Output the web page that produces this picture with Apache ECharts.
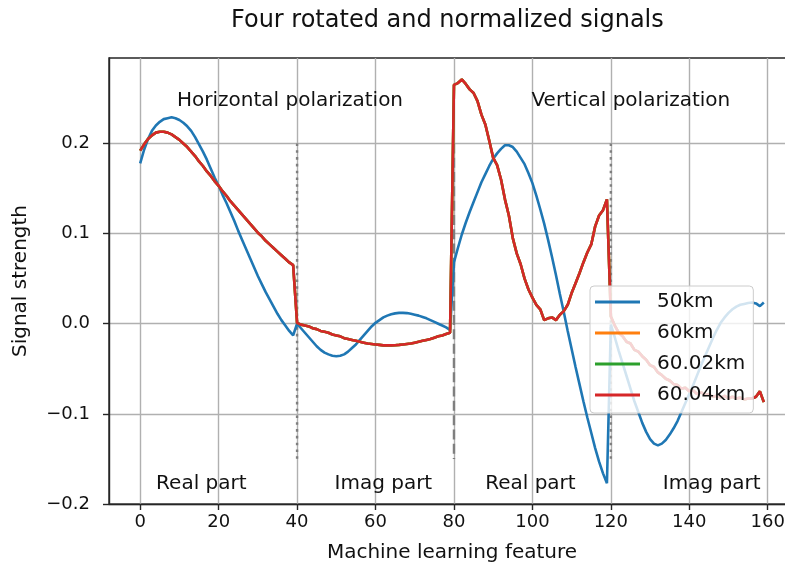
<!DOCTYPE html>
<html><head><meta charset="utf-8">
<script src="https://cdn.jsdelivr.net/npm/echarts@6/dist/echarts.min.js"></script>
<style>html,body{margin:0;padding:0;background:#fff}#c{width:785px;height:571px}</style>
</head><body><div id="c"></div>
<script>
// ---- data ----
const features = Array.from({length: 160}, (_, i) => i); // feature index 0..159

const s50km = [
 0.178,0.193,0.205,0.214,0.220,0.224,0.227,0.228,0.229,0.228,
 0.226,0.223,0.219,0.214,0.207,0.199,0.191,0.182,0.172,0.162,
 0.153,0.143,0.134,0.124,0.114,0.103,0.093,0.083,0.073,0.063,
 0.053,0.044,0.035,0.027,0.019,0.011,0.004,-0.002,-0.008,-0.013,
 0.000,-0.005,-0.010,-0.015,-0.020,-0.025,-0.029,-0.032,-0.034,-0.0355,
 -0.036,-0.0355,-0.034,-0.031,-0.027,-0.023,-0.018,-0.013,-0.008,-0.003,
 0.001,0.004,0.007,0.009,0.0105,0.0115,0.012,0.012,0.0118,0.011,
 0.010,0.009,0.0075,0.006,0.004,0.002,0.000,-0.002,-0.004,-0.007,
 0.068,0.084,0.099,0.112,0.124,0.135,0.146,0.157,0.166,0.175,
 0.183,0.189,0.194,0.198,0.198,0.196,0.191,0.184,0.177,0.167,
 0.156,0.142,0.127,0.111,0.093,0.074,0.054,0.033,0.013,-0.008,
 -0.028,-0.048,-0.067,-0.086,-0.104,-0.121,-0.138,-0.153,-0.166,-0.177,
 -0.001,-0.015,-0.030,-0.044,-0.058,-0.072,-0.086,-0.098,-0.110,-0.120,
 -0.128,-0.133,-0.135,-0.133,-0.129,-0.123,-0.116,-0.108,-0.098,-0.088,
 -0.078,-0.068,-0.057,-0.046,-0.036,-0.026,-0.016,-0.007,0.001,0.007,
 0.012,0.016,0.019,0.021,0.022,0.023,0.0235,0.0225,0.0195,0.0235
];

const s60km = [
 0.192,0.199,0.205,0.209,0.212,0.213,0.213,0.212,0.210,0.207,
 0.204,0.200,0.196,0.191,0.186,0.180,0.175,0.169,0.164,0.158,
 0.153,0.147,0.142,0.136,0.131,0.126,0.121,0.116,0.111,0.106,
 0.101,0.097,0.092,0.088,0.084,0.080,0.076,0.072,0.068,0.065,
 0.001,-0.001,-0.002,-0.003,-0.005,-0.006,-0.008,-0.009,-0.010,-0.012,
 -0.013,-0.014,-0.016,-0.017,-0.018,-0.019,-0.020,-0.021,-0.022,-0.0225,
 -0.023,-0.0235,-0.024,-0.024,-0.024,-0.0238,-0.0235,-0.023,-0.0225,-0.022,
 -0.021,-0.020,-0.019,-0.018,-0.017,-0.0155,-0.014,-0.013,-0.0115,-0.010,
 0.265,0.267,0.271,0.266,0.260,0.256,0.247,0.232,0.221,0.203,
 0.184,0.176,0.160,0.138,0.120,0.095,0.078,0.066,0.050,0.038,
 0.029,0.021,0.016,0.004,0.006,0.007,0.004,0.010,0.014,0.021,
 0.034,0.045,0.056,0.068,0.079,0.088,0.108,0.120,0.126,0.138,
 0.008,-0.002,-0.010,-0.014,-0.020,-0.022,-0.029,-0.031,-0.036,-0.040,
 -0.046,-0.048,-0.054,-0.057,-0.061,-0.063,-0.067,-0.068,-0.072,-0.071,
 -0.075,-0.074,-0.078,-0.076,-0.079,-0.078,-0.081,-0.080,-0.082,-0.080,
 -0.083,-0.081,-0.083,-0.082,-0.084,-0.083,-0.083,-0.081,-0.075,-0.087
];
// the 60.02 km and 60.04 km curves lie exactly on top of the 60 km curve in the picture
const s60_02km = s60km.slice();
const s60_04km = s60km.slice();

const seriesNames = ['50km', '60km', '60.02km', '60.04km'];
const xTicks = [0, 20, 40, 60, 80, 100, 120, 140, 160];
const yTicks = [-0.2, -0.1, 0.0, 0.1, 0.2];

const sepX = [40, 80, 120];
const sepTop = 0.2, sepBottom = -0.15;

const noteText = ['Horizontal polarization', 'Vertical polarization', 'Real part', 'Imag part', 'Real part', 'Imag part'];
const noteX = [38.2, 125.1, 15.6, 62.0, 99.5, 145.7];
const noteY = [0.2473, 0.2473, -0.1775, -0.1775, -0.1775, -0.1775];

// ---- chart ----
const FONT = 'DejaVu Sans';
const TXT = '#111111';
const colors = ['#1f77b4', '#ff7f0e', '#2ca02c', '#d62728'];
const allSeries = [s50km, s60km, s60_02km, s60_04km];
const toPts = arr => features.map((x, i) => [x, arr[i]]);

const series = [];
sepX.forEach((x, k) => {
  series.push({
    type: 'line', name: 'sep' + k, data: [[x, sepTop], [x, sepBottom]],
    symbol: 'none', silent: true, z: 1,
    lineStyle: {color: '#7f7f7f', width: 2.4, type: k === 1 ? [10, 4.3] : [2.6, 4.2]}
  });
});
allSeries.forEach((arr, i) => {
  series.push({
    type: 'line', name: seriesNames[i], data: toPts(arr),
    symbol: 'none', showSymbol: false, z: 2 + i,
    lineStyle: {color: colors[i], width: 2.6},
    itemStyle: {color: colors[i]}
  });
});
series.push({
  type: 'scatter', name: 'notes', z: 8, silent: true,
  data: noteX.map((x, i) => ({value: [x, noteY[i]], name: noteText[i]})),
  symbolSize: 0, itemStyle: {color: '#000000', opacity: 1},
  label: {show: true, position: 'inside', formatter: p => p.name,
          fontSize: 20, fontFamily: FONT, color: TXT, opacity: 1,
          textBorderWidth: 0, textShadowBlur: 0}
});

const fmtY = v => (v < -1e-9 ? '\u2212' : '') + Math.abs(v).toFixed(1);

const option = {
  animation: false,
  backgroundColor: '#fff',
  title: {
    text: 'Four rotated and normalized signals',
    left: 231, top: 9, padding: 0,
    textStyle: {fontSize: 24, fontWeight: 'normal', fontFamily: FONT, color: TXT}
  },
  grid: {
    left: 109, top: 58, right: -10, bottom: 67,
    show: true, borderColor: '#262626', borderWidth: 1.4,
    containLabel: false, outerBoundsMode: 'none'
  },
  legend: {
    data: seriesNames, orient: 'vertical', left: 590, top: 286,
    padding: [6, 8, 8, 5], itemWidth: 45, itemHeight: 3, itemGap: 11,
    icon: 'rect',
    backgroundColor: 'rgba(255,255,255,0.8)', borderColor: '#cccccc',
    borderWidth: 1, borderRadius: 4, z: 10,
    textStyle: {fontSize: 20, fontFamily: FONT, color: TXT, padding: [0, 0, 0, 12], lineHeight: 20}
  },
  xAxis: {
    type: 'value', min: -7.95, max: 166.95,
    name: 'Machine learning feature', nameLocation: 'middle', nameGap: 39,
    nameTextStyle: {fontSize: 20, fontFamily: FONT, color: TXT},
    axisLine: {show: true, onZero: false, lineStyle: {color: '#262626', width: 1.4}},
    axisTick: {show: true, length: 6, customValues: xTicks, lineStyle: {color: '#262626', width: 1.4}},
    axisLabel: {customValues: xTicks, margin: 9, fontSize: 18, fontFamily: FONT, color: TXT},
    splitLine: {show: true, lineStyle: {color: '#b0b0b0', width: 1.4}}
  },
  yAxis: {
    type: 'value', min: -0.2, max: 0.2948,
    name: 'Signal strength', nameLocation: 'middle', nameGap: 78,
    nameTextStyle: {fontSize: 20, fontFamily: FONT, color: TXT},
    axisLine: {show: true, onZero: false, lineStyle: {color: '#262626', width: 1.4}},
    axisTick: {show: true, length: 6, customValues: yTicks, lineStyle: {color: '#262626', width: 1.4}},
    axisLabel: {customValues: yTicks, margin: 19, fontSize: 18, fontFamily: FONT, color: TXT, formatter: fmtY},
    splitLine: {show: true, lineStyle: {color: '#b0b0b0', width: 1.4}}
  },
  series: series
};

const chart = echarts.init(document.getElementById('c'), null, {renderer: 'canvas'});
chart.setOption(option);
</script>
</body></html>
